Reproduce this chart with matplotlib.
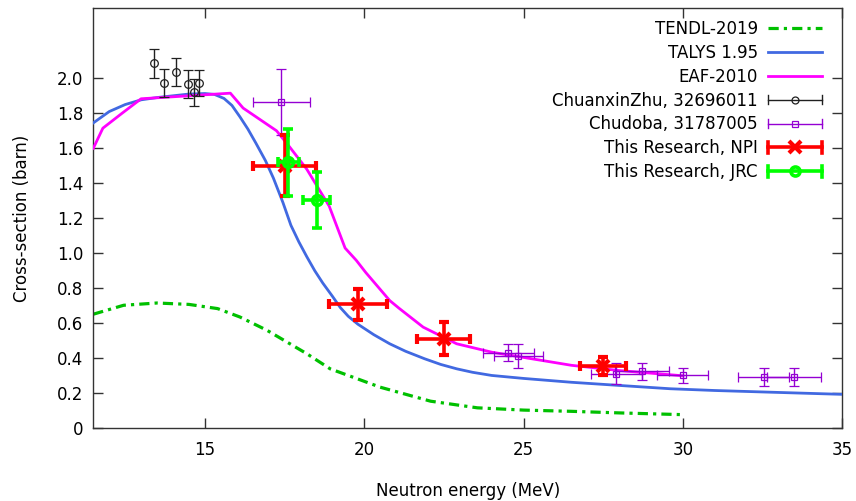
import matplotlib
matplotlib.use("Agg")
import matplotlib.pyplot as plt
from matplotlib.lines import Line2D
from matplotlib.legend_handler import HandlerBase

# ---------------- data ----------------
TENDL_E = [11.5, 12.45, 13.5, 14.5, 15.4, 16.1, 16.95, 18.2, 18.93, 20.5, 22.08, 23.55, 25.0, 26.5, 28.0, 30.0]
TENDL_Y = [0.652, 0.703, 0.716, 0.708, 0.684, 0.636, 0.56, 0.426, 0.34, 0.235, 0.155, 0.117, 0.104, 0.097, 0.088, 0.078]

TALYS_E = [11.5, 12.0, 12.5, 13.0, 13.5, 14.0, 14.5, 15.0, 15.3, 15.6, 15.85, 16.1, 16.35, 16.6, 16.9,
           17.15, 17.45, 17.7, 17.95, 18.2, 18.45, 18.7, 19.0, 19.25, 19.5, 19.8, 20.3, 20.8, 21.3,
           21.9, 22.4, 22.9, 23.4, 24.0, 25.0, 26.5, 28.0, 29.6, 31.0, 32.8, 35.0]
TALYS_Y = [1.745, 1.81, 1.85, 1.877, 1.89, 1.90, 1.91, 1.913, 1.908, 1.885, 1.845, 1.78, 1.71, 1.63, 1.53,
           1.43, 1.29, 1.16, 1.065, 0.98, 0.90, 0.83, 0.755, 0.69, 0.64, 0.595, 0.535, 0.483, 0.44,
           0.397, 0.365, 0.34, 0.32, 0.302, 0.285, 0.263, 0.245, 0.226, 0.216, 0.206, 0.194]

EAF_E = [11.5, 11.8, 12.4, 13.0, 15.8, 16.2, 17.25, 17.65, 18.2, 18.9, 19.4, 19.75, 20.05, 20.8, 21.1,
         21.85, 22.9, 24.0, 25.0, 26.5, 28.0, 30.0]
EAF_Y = [1.60, 1.715, 1.80, 1.883, 1.915, 1.83, 1.70, 1.61, 1.48, 1.27, 1.03, 0.96, 0.89, 0.73, 0.685,
         0.578, 0.483, 0.435, 0.405, 0.36, 0.33, 0.30]

ZHU_E = [13.41, 13.71, 14.10, 14.46, 14.66, 14.81]
ZHU_Y = [2.085, 1.972, 2.035, 1.968, 1.919, 1.974]
ZHU_DY = [0.083, 0.08, 0.08, 0.078, 0.078, 0.075]

CHUDOBA_E = [17.40, 24.52, 24.84, 27.91, 28.71, 30.0, 32.53, 33.48]
CHUDOBA_Y = [1.864, 0.432, 0.412, 0.311, 0.325, 0.302, 0.292, 0.292]
CHUDOBA_DY = [0.19, 0.048, 0.068, 0.06, 0.05, 0.045, 0.05, 0.05]
CHUDOBA_DE = [0.9, 0.8, 0.78, 0.8, 0.85, 0.8, 0.8, 0.85]

NPI_E = [17.5, 19.8, 22.5, 27.5]
NPI_Y = [1.50, 0.708, 0.512, 0.355]
NPI_DY = [0.175, 0.09, 0.094, 0.05]
NPI_DE = [1.0, 0.92, 0.83, 0.72]

JRC_E = [17.62, 18.51]
JRC_Y = [1.52, 1.304]
JRC_DY = [0.19, 0.16]
JRC_DE = [0.32, 0.42]

LABELS = ["TENDL-2019", "TALYS 1.95", "EAF-2010", "ChuanxinZhu, 32696011",
          "Chudoba, 31787005", "This Research, NPI", "This Research, JRC"]
X_TICKS = [15, 20, 25, 30, 35]
Y_TICKS = [0, 0.2, 0.4, 0.6, 0.8, 1.0, 1.2, 1.4, 1.6, 1.8, 2.0]
Y_TICK_LABELS = ["0", "0.2", "0.4", "0.6", "0.8", "1.0", "1.2", "1.4", "1.6", "1.8", "2.0"]

# ---------------- style ----------------
plt.rcParams['font.family'] = ['DejaVu Sans']
FS = 12
C_TENDL = '#00c000'
C_TALYS = '#4169e1'
C_EAF = '#ff00ff'
C_ZHU = '#202020'
C_CHU = '#9400d3'
C_NPI = '#ff0000'
C_JRC = '#00ff00'

fig = plt.figure(figsize=(8.56, 5.01), dpi=100)
ax = fig.add_axes([93.3 / 856, (501 - 428.3) / 501, (842.3 - 93.3) / 856, (428.3 - 8.3) / 501])

ax.plot(TENDL_E, TENDL_Y, color=C_TENDL, lw=2.3, linestyle=(0, (3.2, 1.6, 1.0, 1.6)), zorder=2)
ax.plot(TALYS_E, TALYS_Y, color=C_TALYS, lw=2.0, zorder=3)
ax.plot(EAF_E, EAF_Y, color=C_EAF, lw=2.0, zorder=4)

ax.errorbar(ZHU_E, ZHU_Y, yerr=ZHU_DY, fmt='o', color=C_ZHU, mfc='none', ms=5.5, mew=0.9,
            elinewidth=1.0, capsize=3.3, capthick=1.0, zorder=5)
ax.errorbar(CHUDOBA_E, CHUDOBA_Y, xerr=CHUDOBA_DE, yerr=CHUDOBA_DY, fmt='s', color=C_CHU, mfc='none',
            ms=5, mew=0.9, elinewidth=1.0, capsize=3.3, capthick=1.0, zorder=6)
ax.errorbar(NPI_E, NPI_Y, xerr=NPI_DE, yerr=NPI_DY, fmt='x', color=C_NPI, ms=9, mew=3,
            elinewidth=2.6, capsize=3.8, capthick=2.6, zorder=7)
ax.errorbar(JRC_E, JRC_Y, xerr=JRC_DE, yerr=JRC_DY, fmt='o', color=C_JRC, mfc='none', ms=7, mew=2.6,
            elinewidth=2.6, capsize=3.8, capthick=2.6, zorder=8)

ax.set_xlim(11.5, 35)
ax.set_ylim(0, 2.4)
ax.set_xticks(X_TICKS)
ax.set_xticklabels([str(t) for t in X_TICKS])
ax.set_yticks(Y_TICKS)
ax.set_yticklabels(Y_TICK_LABELS)
ax.tick_params(axis='both', direction='in', length=7, width=1.0, color='#333333',
               labelsize=FS, top=True, right=True)
ax.tick_params(axis='x', pad=9)
ax.tick_params(axis='y', pad=7)
for s in ax.spines.values():
    s.set_color('#333333')
    s.set_linewidth(1.0)

ax.set_xlabel("Neutron energy (MeV)", fontsize=FS, labelpad=17)
ax.set_ylabel("Cross-section (barn)", fontsize=FS, labelpad=19)


# ---------------- legend (gnuplot style) ----------------
class LineHandler(HandlerBase):
    def __init__(self, color, lw, ls='-'):
        super().__init__()
        self.c, self.lw, self.ls = color, lw, ls

    def create_artists(self, legend, orig_handle, xdescent, ydescent, width, height, fontsize, trans):
        y = (height - ydescent) / 2
        ln = Line2D([-xdescent, width - xdescent], [y, y], color=self.c, lw=self.lw, linestyle=self.ls)
        ln.set_transform(trans)
        return [ln]


class ErrHandler(HandlerBase):
    def __init__(self, color, lw, marker, ms, mew, caph):
        super().__init__()
        self.c, self.lw, self.m, self.ms, self.mew, self.caph = color, lw, marker, ms, mew, caph

    def create_artists(self, legend, orig_handle, xdescent, ydescent, width, height, fontsize, trans):
        y = (height - ydescent) / 2
        x0, x1 = -xdescent, width - xdescent
        arts = [
            Line2D([x0, x1], [y, y], color=self.c, lw=self.lw),
            Line2D([x0, x0], [y - self.caph, y + self.caph], color=self.c, lw=self.lw),
            Line2D([x1, x1], [y - self.caph, y + self.caph], color=self.c, lw=self.lw),
            Line2D([(x0 + x1) / 2], [y], marker=self.m, ms=self.ms, mew=self.mew, mfc='none',
                   mec=self.c, color=self.c, linestyle='none'),
        ]
        for a in arts:
            a.set_transform(trans)
        return arts


proxies = [Line2D([], []) for _ in LABELS]
handlers = [
    LineHandler(C_TENDL, 2.3, (0, (3.2, 1.6, 1.0, 1.6))),
    LineHandler(C_TALYS, 2.0),
    LineHandler(C_EAF, 2.0),
    ErrHandler(C_ZHU, 1.0, 'o', 5, 0.9, 3.3),
    ErrHandler(C_CHU, 1.0, 's', 5, 0.9, 3.3),
    ErrHandler(C_NPI, 2.6, 'x', 8, 3, 3.8),
    ErrHandler(C_JRC, 2.6, 'o', 6.5, 2.6, 3.8),
]
leg = ax.legend(proxies, LABELS, handler_map=dict(zip(proxies, handlers)),
                loc='upper right', bbox_to_anchor=(0.973, 0.972), frameon=False,
                markerfirst=False, fontsize=FS, handlelength=3.25, handletextpad=0.6,
                labelspacing=0.35, borderpad=0, borderaxespad=0)

fig.savefig("out.png", dpi=100)
